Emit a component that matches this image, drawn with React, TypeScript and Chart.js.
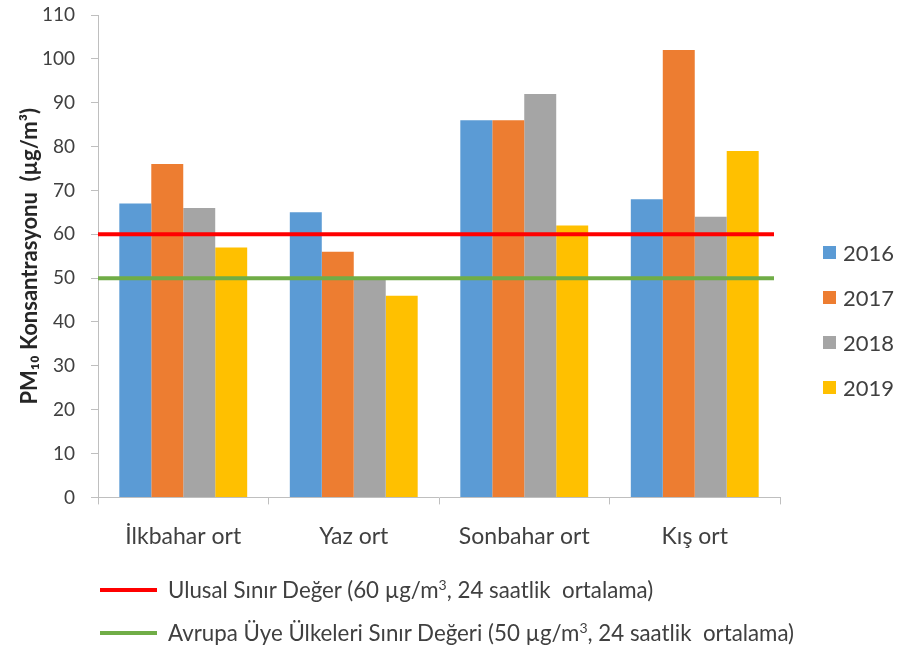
import React, { useEffect, useRef } from "react";
import { Chart, registerables } from "chart.js";

Chart.register(...registerables);

const categories = ["İlkbahar ort", "Yaz ort", "Sonbahar ort", "Kış ort"];
const seriesNames = ["2016", "2017", "2018", "2019"];
const series2016 = [67, 65, 86, 68];
const series2017 = [76, 56, 86, 102];
const series2018 = [66, 50, 92, 64];
const series2019 = [57, 46, 62, 79];
const seriesColors = ["#5B9BD5", "#ED7D31", "#A5A5A5", "#FFC000"];
const yTickValues = [0, 10, 20, 30, 40, 50, 60, 70, 80, 90, 100, 110];
const yAxisTitle = "PM₁₀ Konsantrasyonu  (µg/m³)";
const limitValues = [60, 50];
const limitColors = ["#FF0000", "#70AD47"];
const limitLabelsBefore = ["Ulusal Sınır Değer (60 µg/m", "Avrupa Üye Ülkeleri Sınır Değeri (50 µg/m"];
const limitLabelsAfter = [", 24 saatlik  ortalama)", ", 24 saatlik  ortalama)"];

const FONT = "Lato, 'Open Sans', sans-serif";
const TEXT = "#404040";
const AXIS = "#BFBFBF";

const limitLinesPlugin = {
  id: "limitLines",
  afterDatasetsDraw(chart: any) {
    const { ctx, chartArea, scales } = chart;
    limitValues.forEach((v, i) => {
      const y = scales.y.getPixelForValue(v);
      ctx.save();
      ctx.strokeStyle = limitColors[i];
      ctx.lineWidth = 4;
      ctx.beginPath();
      ctx.moveTo(chartArea.left, y);
      ctx.lineTo(chartArea.right - 6, y);
      ctx.stroke();
      ctx.restore();
    });
  },
};

export default function App() {
  const ref = useRef<HTMLCanvasElement>(null);

  useEffect(() => {
    const seriesData = [series2016, series2017, series2018, series2019];
    const barSets = seriesNames.map((name, i) => ({
      label: name,
      data: seriesData[i],
      backgroundColor: seriesColors[i],
      borderWidth: 0,
      categoryPercentage: 0.75,
      barPercentage: 1.0,
    }));

    const chart = new Chart(ref.current!, {
      type: "bar",
      data: {
        labels: categories,
        datasets: barSets,
      },
      plugins: [limitLinesPlugin],
      options: {
        responsive: false,
        animation: false,
        devicePixelRatio: 1,
        layout: { padding: { left: 17, right: 118, top: 15, bottom: 85 } },
        plugins: {
          legend: { display: false },
          tooltip: { enabled: false },
        },
        scales: {
          x: {
            type: "category",
            offset: true,
            grid: {
              display: true,
              offset: true,
              drawOnChartArea: false,
              drawTicks: true,
              tickLength: 7,
              color: AXIS,
            },
            border: { display: true, color: AXIS, width: 1 },
            ticks: {
              color: TEXT,
              padding: 18,
              font: { family: FONT, size: 23 },
            },
          },
          y: {
            type: "linear",
            min: 0,
            max: 110,
            afterBuildTicks: (axis: any) => {
              axis.ticks = yTickValues.map((v) => ({ value: v }));
            },
            afterFit: (axis: any) => {
              axis.width = 81;
              axis.paddingTop = 0;
            },
            grid: {
              display: true,
              drawOnChartArea: false,
              drawTicks: true,
              tickLength: 7,
              color: AXIS,
            },
            border: { display: true, color: AXIS, width: 1 },
            ticks: {
              color: TEXT,
              padding: 16,
              font: { family: FONT, size: 19 },
            },
            title: {
              display: true,
              text: yAxisTitle,
              color: "#262626",
              padding: 0,
              font: { family: FONT, size: 22, weight: "bold" },
            },
          },
        },
      },
    } as any);
    return () => chart.destroy();
  }, []);

  return (
    <div
      style={{
        position: "absolute",
        left: 0,
        top: 0,
        width: 898,
        height: 653,
        background: "#ffffff",
        fontFamily: FONT,
        color: TEXT,
        overflow: "hidden",
      }}
    >
      <canvas ref={ref} width={898} height={653} style={{ position: "absolute", left: 0, top: 0 }} />
      {seriesNames.map((name, i) => (
        <div
          key={name}
          style={{
            position: "absolute",
            left: 823,
            top: 252 + i * 45 - 14,
            height: 28,
            display: "flex",
            alignItems: "center",
            fontSize: 22,
            whiteSpace: "nowrap",
          }}
        >
          <span style={{ display: "inline-block", width: 13, height: 13, background: seriesColors[i], marginRight: 7 }} />
          <span>{name}</span>
        </div>
      ))}
      {limitValues.map((v, i) => (
        <div
          key={v}
          style={{
            position: "absolute",
            left: 100,
            top: 590 + i * 43 - 15,
            height: 30,
            display: "flex",
            alignItems: "center",
            fontSize: 22.3,
            whiteSpace: "pre",
          }}
        >
          <span style={{ display: "inline-block", width: 57, height: 4, background: limitColors[i], marginRight: 11 }} />
          <span>
            {limitLabelsBefore[i]}
            <sup style={{ fontSize: 14 }}>3</sup>
            {limitLabelsAfter[i]}
          </span>
        </div>
      ))}
    </div>
  );
}
